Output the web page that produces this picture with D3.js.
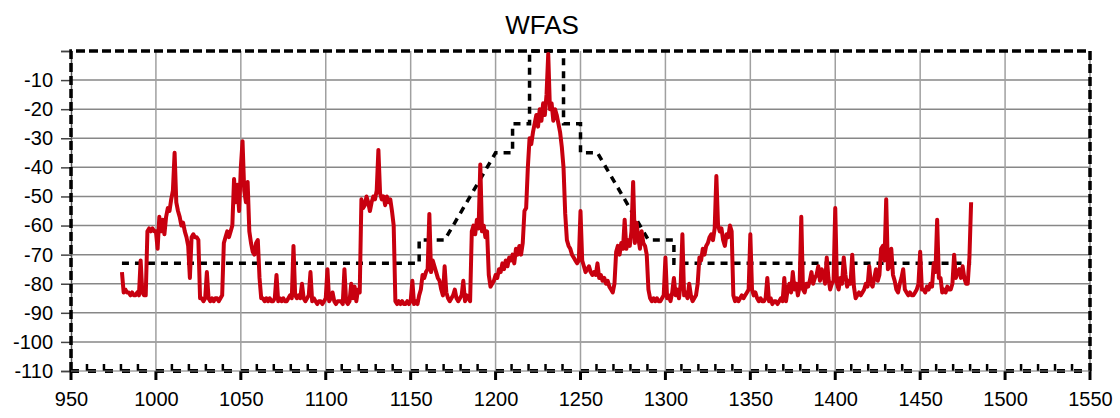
<!DOCTYPE html>
<html>
<head>
<meta charset="utf-8">
<script src="https://cdn.jsdelivr.net/npm/d3@7"></script>
<style>
  body { margin: 0; background: #fff; }
  text { font-family: "Liberation Sans", Arial, sans-serif; fill: #000; }
</style>
</head>
<body>
<svg id="chart"></svg>
<script>
const width = 1120;
const height = 418;
const plot = { left: 71, right: 1090, top: 51, bottom: 371 };

// axis ticks
const xTicks = [950, 1000, 1050, 1100, 1150, 1200, 1250, 1300, 1350, 1400, 1450, 1500, 1550];
const yTicks = [0, -10, -20, -30, -40, -50, -60, -70, -80, -90, -100, -110];

// emission mask (dashed)
const maskFreq  = [980, 1155, 1155, 1170, 1200, 1210, 1210, 1220, 1220, 1240, 1240, 1250, 1250, 1260, 1290, 1305, 1305, 1480];
const maskLevel = [-73, -73, -65, -65, -35, -35, -25, -25, 0, 0, -25, -25, -35, -35, -65, -65, -73, -73];

// outer limit lines
const frameFreq  = [950, 950, 1550, 1550];
const frameLevel = [-110, 0, 0, -110];

// measured trace, 1 MHz per point from 980
const traceStart = 980;
const traceLevels = [
  -76, -83, -82, -83, -83, -84, -83, -84, -84, -83,
  -84, -72, -83, -84, -84, -62, -61, -62, -61, -62,
  -62, -68, -57, -62, -58, -63, -57, -54, -55, -51,
  -48, -35, -52, -55, -57, -60, -59, -62, -64, -67,
  -78, -64, -63, -64, -64, -65, -85, -85, -86, -85,
  -76, -85, -86, -85, -86, -85, -85, -86, -85, -84,
  -66, -64, -62, -64, -62, -60, -44, -52, -46, -55,
  -40, -31, -48, -52, -45, -62, -66, -69, -70, -66,
  -65, -78, -85, -85, -86, -85, -86, -85, -86, -86,
  -85, -77, -86, -85, -86, -85, -86, -86, -85, -84,
  -85, -67, -84, -85, -84, -85, -80, -85, -86, -85,
  -84, -76, -86, -85, -86, -87, -86, -86, -87, -86,
  -85, -75, -86, -85, -83, -86, -87, -86, -86, -86,
  -87, -75, -86, -87, -86, -80, -85, -81, -86, -82,
  -83, -51, -54, -53, -50, -52, -55, -52, -50, -51,
  -48, -34, -49, -51, -50, -53, -50, -52, -51, -55,
  -60, -86, -87, -86, -87, -86, -87, -87, -86, -87,
  -86, -79, -87, -86, -87, -84, -82, -77, -78, -76,
  -75, -56, -76, -72, -74, -76, -78, -79, -82, -84,
  -74, -83, -85, -86, -85, -84, -82, -85, -86, -85,
  -84, -79, -86, -84, -85, -86, -62, -60, -63, -58,
  -61, -39, -62, -60, -64, -62, -77, -81, -80, -79,
  -77, -78, -75, -76, -73, -75, -72, -74, -71, -72,
  -70, -73, -68, -70, -67, -70, -66, -55, -54, -40,
  -30, -32, -28, -25, -22, -26, -20, -24, -18, -22,
  -15, -1, -20, -18, -24, -20, -22, -25, -28, -33,
  -40, -56, -65, -67, -68, -70, -71, -72, -73, -72,
  -55, -72, -74, -76, -75, -74, -76, -77, -76, -77,
  -73, -78, -77, -79, -78, -80, -79, -81, -82, -83,
  -80, -69, -67, -70, -66, -68, -58, -68, -65, -67,
  -62, -45, -66, -59, -64, -68, -62, -66, -67, -70,
  -82, -85, -86, -85, -86, -85, -86, -86, -85, -84,
  -71, -85, -84, -86, -83, -78, -84, -82, -85, -80,
  -63, -84, -83, -85, -80, -84, -86, -85, -84, -80,
  -71, -72, -68, -70, -67, -66, -64, -63, -65, -61,
  -43, -60, -62, -61, -65, -67, -63, -64, -60, -62,
  -84, -86, -85, -86, -85, -84, -85, -84, -83, -82,
  -63, -82, -84, -83, -85, -86, -85, -86, -86, -85,
  -78, -86, -85, -87, -86, -86, -87, -86, -85, -86,
  -78, -86, -82, -80, -83, -76, -82, -80, -84, -81,
  -57, -82, -83, -80, -81, -79, -76, -80, -78, -77,
  -74, -79, -75, -77, -80, -71, -78, -82, -80, -79,
  -54, -80, -82, -78, -80, -71, -77, -81, -79, -80,
  -70, -81, -85, -84, -83, -84, -83, -82, -80, -81,
  -74, -80, -81, -78, -75, -79, -77, -68, -67, -72,
  -51, -75, -74, -68, -77, -79, -82, -83, -80, -78,
  -75, -82, -83, -84, -83, -84, -84, -83, -82, -80,
  -69, -82, -82, -83, -81, -82, -80, -81, -73, -76,
  -58, -78, -78, -83, -82, -83, -81, -82, -82, -80,
  -70, -78, -76, -75, -78, -74, -78, -80, -80, -71,
  -52
];

const svg = d3.select("#chart")
  .attr("width", width)
  .attr("height", height);

const xScale = d3.scaleLinear().domain([950, 1550]).range([plot.left, plot.right]);
const yScale = d3.scaleLinear().domain([-110, 0]).range([plot.bottom, plot.top]);

// title
svg.append("text")
  .attr("x", 542)
  .attr("y", 34)
  .attr("text-anchor", "middle")
  .style("font-size", "26px")
  .text("WFAS");

// grid
svg.append("g")
  .selectAll("line")
  .data(yTicks.filter(d => d < 0 && d > -110))
  .enter()
  .append("line")
  .attr("x1", plot.left).attr("x2", plot.right)
  .attr("y1", d => yScale(d)).attr("y2", d => yScale(d))
  .attr("stroke", "#878787")
  .attr("stroke-width", 1.5);

svg.append("g")
  .selectAll("line")
  .data(xTicks.filter(d => d > 950 && d < 1550))
  .enter()
  .append("line")
  .attr("x1", d => xScale(d)).attr("x2", d => xScale(d))
  .attr("y1", plot.top).attr("y2", plot.bottom)
  .attr("stroke", "#a0a0a0")
  .attr("stroke-width", 1.5);

// y axis
const yAxis = d3.axisLeft(yScale)
  .tickValues(yTicks)
  .tickSize(10)
  .tickPadding(8)
  .tickFormat(d => d === 0 ? "" : d);

const yG = svg.append("g")
  .attr("transform", "translate(" + plot.left + ",0)")
  .call(yAxis);
yG.select(".domain").attr("stroke", "#555").attr("stroke-width", 1.5);
yG.selectAll(".tick line").attr("stroke", "#444").attr("stroke-width", 1.5);
yG.selectAll(".tick text").style("font-size", "20px").attr("fill", "#000");

// x axis
const xAxis = d3.axisBottom(xScale)
  .tickValues(xTicks)
  .tickSize(0)
  .tickPadding(21)
  .tickFormat(d3.format("d"));

const xG = svg.append("g")
  .attr("transform", "translate(0," + plot.bottom + ")")
  .call(xAxis);
xG.select(".domain").remove();
xG.selectAll(".tick text").style("font-size", "20px").attr("fill", "#000");

// right side axis line
svg.append("line")
  .attr("x1", plot.right).attr("x2", plot.right)
  .attr("y1", plot.top).attr("y2", plot.bottom)
  .attr("stroke", "#888")
  .attr("stroke-width", 1.5);

// limit lines (dashed, black)
const line = d3.line()
  .x(d => xScale(d[0]))
  .y(d => yScale(d[1]));

svg.append("path")
  .datum(frameFreq.map((f, i) => [f, frameLevel[i]]))
  .attr("d", line)
  .attr("fill", "none")
  .attr("stroke", "#000")
  .attr("stroke-width", 3.5)
  .attr("stroke-dasharray", "9,4");

svg.append("path")
  .datum([[950, -110], [1550, -110]])
  .attr("d", line)
  .attr("fill", "none")
  .attr("stroke", "#000")
  .attr("stroke-width", 4)
  .attr("stroke-dasharray", "8,9");

// minor ticks (inside, every 10) and major ticks (outside, every 50)
const minorTicks = d3.range(950, 1551, 10).filter(d => d % 50 !== 0);
svg.append("g")
  .selectAll("line")
  .data(minorTicks)
  .enter()
  .append("line")
  .attr("x1", d => xScale(d) - 1).attr("x2", d => xScale(d) - 1)
  .attr("y1", plot.bottom).attr("y2", plot.bottom - 7)
  .attr("stroke", "#000")
  .attr("stroke-width", 2.5);

svg.append("g")
  .selectAll("line")
  .data(xTicks)
  .enter()
  .append("line")
  .attr("x1", d => xScale(d)).attr("x2", d => xScale(d))
  .attr("y1", plot.bottom).attr("y2", plot.bottom + 9)
  .attr("stroke", "#000")
  .attr("stroke-width", 3);

svg.append("line")
  .attr("x1", plot.left).attr("x2", plot.right)
  .attr("y1", plot.bottom).attr("y2", plot.bottom)
  .attr("stroke", "#777")
  .attr("stroke-width", 1);

// mask
svg.append("path")
  .datum(maskFreq.map((f, i) => [f, maskLevel[i]]))
  .attr("d", line)
  .attr("fill", "none")
  .attr("stroke", "#000")
  .attr("stroke-width", 3.5)
  .attr("stroke-dasharray", "7,6");

// trace
svg.append("path")
  .datum(traceLevels.map((v, i) => [traceStart + i, v]))
  .attr("d", line)
  .attr("fill", "none")
  .attr("stroke", "#c8000f")
  .attr("stroke-width", 4)
  .attr("stroke-linejoin", "round");
</script>
</body>
</html>
